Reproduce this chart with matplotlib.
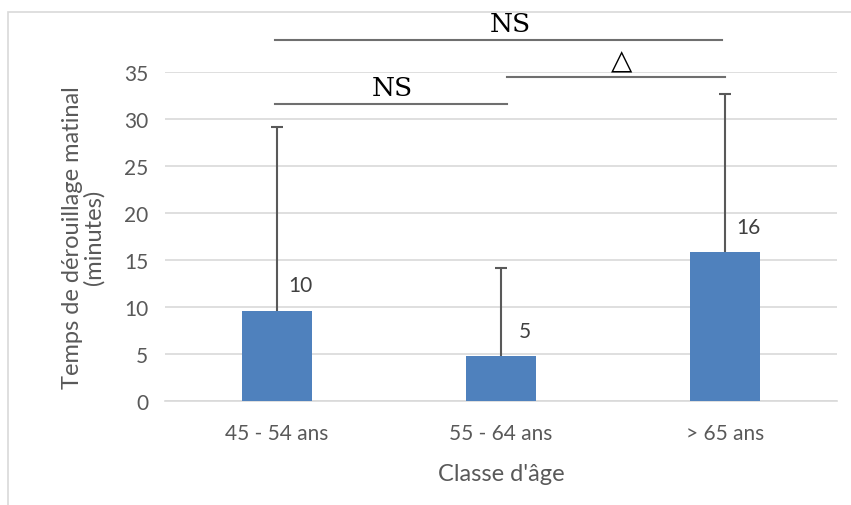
import matplotlib
matplotlib.use("Agg")
import matplotlib.pyplot as plt
from matplotlib.patches import Rectangle

categories = ["45 - 54 ans", "55 - 64 ans", "> 65 ans"]
means = [9.6, 4.8, 15.8]
err_upper = [19.6, 9.35, 16.85]
labels = ["10", "5", "16"]
yticks = [0, 5, 10, 15, 20, 25, 30, 35]

plt.rcParams['font.family'] = ['Lato', 'DejaVu Sans']
fig = plt.figure(figsize=(8.51, 5.06), dpi=100)
ax = fig.add_axes([165/851, 1-402/506, (837-165)/851, (402-73)/506])

gray = "#595959"
x = list(range(len(categories)))
ax.bar(x, means, width=0.31, color="#4F81BD", zorder=3)
tops = [m + e for m, e in zip(means, err_upper)]
ax.vlines(x, means, tops, color=gray, linewidth=1.5, zorder=4)
ax.hlines(tops, [i - 0.028 for i in x], [i + 0.028 for i in x], color=gray,
          linewidth=1.5, zorder=4)
for i, (m, lab) in enumerate(zip(means, labels)):
    ax.annotate(lab, (i, m), xytext=(17, 11), textcoords='offset points',
                ha='center', va='bottom', fontsize=15, color="#404040")

ax.set_xlim(-0.5, 2.5)
ax.set_ylim(0, 35)
ax.set_yticks(yticks)
ax.set_xticks(x)
ax.set_xticklabels(categories)
ax.yaxis.grid(True, color="#D9D9D9", linewidth=1.2, zorder=0)
ax.set_axisbelow(True)
for s in ["top", "right", "left"]:
    ax.spines[s].set_visible(False)
ax.spines["bottom"].set_color("#D9D9D9")
ax.spines["bottom"].set_linewidth(1.2)
ax.tick_params(axis='both', length=0, labelsize=15, colors=gray, pad=12)
ax.tick_params(axis='x', pad=16)
ax.set_xlabel("Classe d'âge", fontsize=17, color=gray, labelpad=14)
ax.set_ylabel("Temps de dérouillage matinal\n(minutes)", fontsize=17, color=gray,
              labelpad=14, linespacing=1.0)

# significance lines
lc = "#6f6f6f"
ax.plot([-0.01, 1.985], [38.4, 38.4], color=lc, lw=1.5, clip_on=False)
ax.plot([1.025, 2.0], [34.5, 34.5], color=lc, lw=1.5, clip_on=False)
ax.plot([-0.01, 1.025], [31.6, 31.6], color=lc, lw=1.5, clip_on=False)
ax.text(1.04, 38.8, "NS", ha='center', va='bottom', fontsize=19,
        family=['DejaVu Serif'], color='black', clip_on=False)
ax.text(0.515, 32.0, "NS", ha='center', va='bottom', fontsize=19,
        family=['DejaVu Serif'], color='black', clip_on=False)
ax.text(1.54, 34.75, "△", ha='center', va='bottom', fontsize=20,
        family=['DejaVu Sans'], color='black', clip_on=False)

# outer border
fig.patches.append(Rectangle((8/851, -0.01), 1.0, 1-13/506+0.01, transform=fig.transFigure,
                             fill=False, edgecolor="#D9D9D9", linewidth=1.2))

fig.savefig("out.png", dpi=100)
